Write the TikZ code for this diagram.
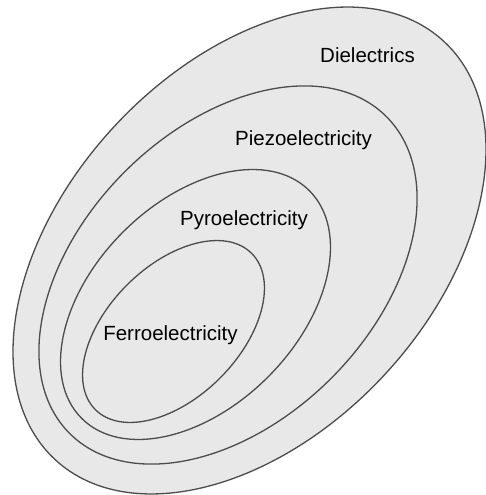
\documentclass[tikz,border=0pt]{standalone}
\usepackage{fontspec}
\setmainfont{Liberation Sans}
\begin{document}
\begin{tikzpicture}[x=1pt,y=-1pt,
  region/.style={draw=black!70, line width=1.3pt, fill=black!9},
  lbl/.style={anchor=base, inner sep=0pt, font=\fontsize{20.5}{24}\selectfont, text=black}]
\useasboundingbox (0,0) rectangle (485,495);
% Dielectrics
\draw[region, rotate around={47:(249.5,250.5)}] (249.5,250.5) ellipse [x radius=285.5, y radius=183.5];
% Piezoelectricity
\draw[region, rotate around={45:(228,275)}] (228,275) ellipse [x radius=224, y radius=146];
% Pyroelectricity
\draw[region, rotate around={45:(195.5,304.5)}] (195.5,304.5) ellipse [x radius=161, y radius=102.5];
% Ferroelectricity
\draw[region, rotate around={45:(173.5,331.5)}] (173.5,331.5) ellipse [x radius=110.5, y radius=65.8];
\node[lbl] (diel) at (367.5,63) {Dielectrics};
\node[lbl] (piezo) at (303.5,145) {Piezoelectricity};
\node[lbl] (pyro) at (244,225) {Pyroelectricity};
\node[lbl] (ferro) at (170.5,340) {Ferroelectricity};
\end{tikzpicture}
\end{document}
